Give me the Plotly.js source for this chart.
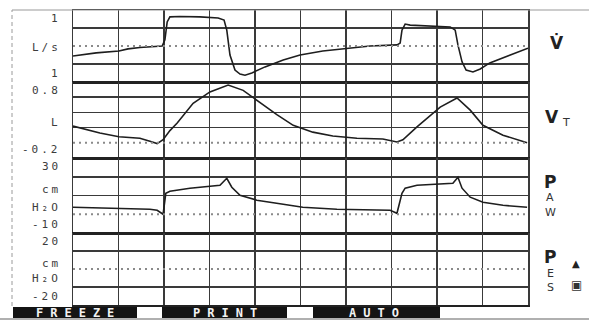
<!DOCTYPE html>
<html>
<head>
<meta charset="utf-8">
<script src="https://cdn.plot.ly/plotly-3.0.1.min.js"></script>
<style>html,body{margin:0;padding:0;background:#fff;}#chart{width:589px;height:320px;}</style>
</head>
<body>
<div id="chart"></div>
<script>
// ---- data ----
// time in grid divisions (0..10)
const tFlow = [0,0.51,1.01,1.21,1.47,1.96,2.02,2.07,2.13,2.35,2.79,3.19,3.32,3.38,3.45,3.56,3.67,3.78,3.93,4.22,4.62,4.99,5.49,6.02,6.53,7.12,7.19,7.23,7.30,7.41,7.85,8.29,8.40,8.46,8.55,8.64,8.79,8.95,9.16,9.60,10.0];
const flow  = [-0.28,-0.19,-0.14,-0.08,-0.04,0.0,0.17,0.67,0.81,0.82,0.81,0.78,0.72,0.44,-0.25,-0.67,-0.78,-0.81,-0.75,-0.58,-0.39,-0.25,-0.14,-0.06,0.0,0.03,0.08,0.44,0.61,0.58,0.56,0.53,0.44,0.03,-0.44,-0.67,-0.72,-0.64,-0.47,-0.25,-0.06];

const tVol = [0,0.59,1.01,1.47,1.69,1.85,1.98,2.13,2.29,2.64,3.01,3.41,3.74,4.04,4.48,4.84,5.27,5.71,6.24,6.81,7.12,7.25,7.56,8.07,8.44,8.73,9.01,9.45,9.98];
const vol  = [0.22,0.13,0.08,0.06,0.02,-0.01,0.04,0.16,0.26,0.52,0.67,0.76,0.69,0.56,0.37,0.23,0.14,0.09,0.06,0.05,0.01,0.04,0.21,0.47,0.59,0.43,0.23,0.10,0.0];

const tPaw = [0,1.03,1.69,1.85,1.98,2.04,2.13,2.57,3.23,3.38,3.49,3.67,4.04,4.62,5.05,5.80,6.97,7.12,7.23,7.30,7.56,8.35,8.46,8.55,8.73,9.01,9.45,9.98];
const paw  = [3.7,3.2,2.7,2.1,0,11.2,12.3,13.9,15.5,19.2,14.4,10.1,7.5,5.3,3.7,2.7,2.1,0.5,11.2,13.9,15.5,16.5,19.7,13.9,9.1,6.4,4.8,3.7];

const tPes = [];   // no Pes trace visible
const pes  = [];

// axis ranges / labels
const flowRange = [-1, 1],   flowGrid = [-0.5, 0.5];
const volRange  = [-0.2, 0.8], volGrid = [0.2, 0.4, 0.6];
const pawRange  = [-10, 30], pawGrid = [10, 20];
const pesRange  = [-20, 20], pesGrid = [-10, 10];
const xGrid = [1,2,3,4,5,6,7,8,9];

const flowLabels = ["1", "L/s", "1"];
const volLabels  = ["0.8", "L", "-0.2"];
const pawLabels  = ["30", "cm", "H₂O", "-10"];
const pesLabels  = ["20", "cm", "H₂O", "-20"];
const flowName   = "V̇";
const volName    = ["V", "T"];
const pawName    = ["P", "A", "W"];
const pesName    = ["P", "E", "S"];
const buttons    = ["FREEZE", "PRINT", "AUTO"];

// ---- drawing ----
const lineStyle = {color: '#1e1e1e', width: 1.6};
const traces = [
  {x: tFlow, y: flow, yaxis: 'y',  type: 'scatter', mode: 'lines', line: lineStyle, hoverinfo: 'skip'},
  {x: tVol,  y: vol,  yaxis: 'y2', type: 'scatter', mode: 'lines', line: lineStyle, hoverinfo: 'skip'},
  {x: tPaw,  y: paw,  yaxis: 'y3', type: 'scatter', mode: 'lines', line: lineStyle, hoverinfo: 'skip'},
  {x: tPes,  y: pes,  yaxis: 'y4', type: 'scatter', mode: 'lines', line: lineStyle, hoverinfo: 'skip'}
];

const gridCol = '#3a3a3a';
function yax(domain, range, grid) {
  return {domain: domain, range: range, tickvals: grid, showticklabels: false, ticks: '',
    showgrid: true, gridcolor: gridCol, gridwidth: 1.5, zeroline: false,
    showline: true, mirror: true, linecolor: gridCol, linewidth: 1.5, anchor: 'x', fixedrange: true};
}

const PX = px => (px - 73) / 455;     // pixel -> paper x
const PY = py => (305 - py) / 295;    // pixel -> paper y

const shapes = [];
// dotted zero lines
['y','y2','y3','y4'].forEach(r => shapes.push({type: 'line', xref: 'x', yref: r, x0: 0, x1: 10, y0: 0, y1: 0,
  line: {color: '#8a8a8a', width: 2, dash: '2px,4px'}}));
// outer frame of the screen
shapes.push({type: 'line', xref: 'paper', yref: 'paper', x0: PX(12), x1: PX(589), y0: 1, y1: 1, line: {color: '#9a9a9a', width: 1.2}});
shapes.push({type: 'line', xref: 'paper', yref: 'paper', x0: PX(12), x1: PX(12), y0: PY(306), y1: 1, line: {color: '#9a9a9a', width: 1, dash: '4px,3px'}});
shapes.push({type: 'line', xref: 'paper', yref: 'paper', x0: PX(0), x1: PX(589), y0: PY(319), y1: PY(319), line: {color: '#b0b0b0', width: 2}});
// button bar
const btnX = [[13,137],[162,287],[313,440]];
btnX.forEach(b => shapes.push({type: 'rect', xref: 'paper', yref: 'paper', x0: PX(b[0]), x1: PX(b[1]), y0: PY(318), y1: PY(307),
  fillcolor: '#141414', line: {width: 0}}));

const labFont = {family: 'DejaVu Sans Mono, monospace', size: 11, color: '#3c3c3c'};
const ann = [];
function leftLab(text, yref, y, anchor) {
  ann.push({text: '<span style="letter-spacing:3px">' + text + '</span>', xref: 'paper', yref: yref, x: PX(63), y: y,
    xanchor: 'right', yanchor: anchor, showarrow: false, font: labFont});
}
leftLab(flowLabels[0], 'y', 1, 'top');
leftLab(flowLabels[1], 'y', -0.05, 'middle');
leftLab(flowLabels[2], 'y', -1, 'bottom');
leftLab(volLabels[0], 'y2', 0.8, 'top');
leftLab(volLabels[1], 'y2', 0.27, 'middle');
leftLab(volLabels[2], 'y2', -0.2, 'bottom');
leftLab(pawLabels[0], 'y3', 30, 'top');
leftLab(pawLabels[1], 'y3', 13.3, 'middle');
leftLab(pawLabels[2], 'y3', 3.7, 'middle');
leftLab(pawLabels[3], 'y3', -10, 'bottom');
leftLab(pesLabels[0], 'y4', 20, 'top');
leftLab(pesLabels[1], 'y4', 3.3, 'middle');
leftLab(pesLabels[2], 'y4', -5, 'middle');
leftLab(pesLabels[3], 'y4', -20, 'bottom');

// right-hand channel names
const rFont = {family: 'DejaVu Sans, sans-serif', size: 17, color: '#222'};
function rLab(text, px, py, font) {
  ann.push({text: text, xref: 'paper', yref: 'paper', x: PX(px), y: PY(py), xanchor: 'center', yanchor: 'middle', showarrow: false, font: font});
}
const small = {family: 'DejaVu Sans, sans-serif', size: 11, color: '#333'};
rLab('<b>' + flowName + '</b>', 557, 43, rFont);
rLab('<b>' + volName[0] + '</b>', 552, 117, rFont);
rLab(volName[1], 566, 122, small);
rLab('<b>' + pawName[0] + '</b>', 550, 182, rFont);
rLab(pawName[1], 550, 197, small);
rLab(pawName[2], 550, 212, small);
rLab('<b>' + pesName[0] + '</b>', 550, 257, rFont);
rLab(pesName[1], 550, 273, small);
rLab(pesName[2], 550, 287, small);
rLab('▲', 576, 263, {family: 'DejaVu Sans', size: 10, color: '#222'});
rLab('▣', 576, 285, {family: 'DejaVu Sans', size: 12, color: '#333'});

// buttons text
const btnCenters = [75, 225, 374];
buttons.forEach((b, i) => ann.push({text: '<b><span style="letter-spacing:7px">' + b + '</span></b>', xref: 'paper', yref: 'paper',
  x: PX(btnCenters[i] + 3), y: PY(312.5), xanchor: 'center', yanchor: 'middle', showarrow: false,
  font: {family: 'DejaVu Sans Mono, monospace', size: 12, color: '#f2f2f2'}}));

const layout = {
  width: 589, height: 320,
  margin: {l: 73, r: 61, t: 10, b: 15, pad: 0},
  paper_bgcolor: '#ffffff', plot_bgcolor: '#ffffff',
  showlegend: false,
  xaxis: {range: [0, 10], tickvals: xGrid, showticklabels: false, ticks: '', showgrid: true, gridcolor: gridCol, gridwidth: 1.5,
    zeroline: false, showline: true, mirror: 'all', linecolor: '#222', linewidth: 1.5, anchor: 'y4', fixedrange: true},
  yaxis:  yax([PY(82), 1], flowRange, flowGrid),
  yaxis2: yax([PY(158), PY(82)], volRange, volGrid),
  yaxis3: yax([PY(233), PY(158)], pawRange, pawGrid),
  yaxis4: yax([0, PY(233)], pesRange, pesGrid),
  shapes: shapes,
  annotations: ann
};

Plotly.newPlot('chart', traces, layout, {displayModeBar: false, staticPlot: true});
</script>
</body>
</html>
